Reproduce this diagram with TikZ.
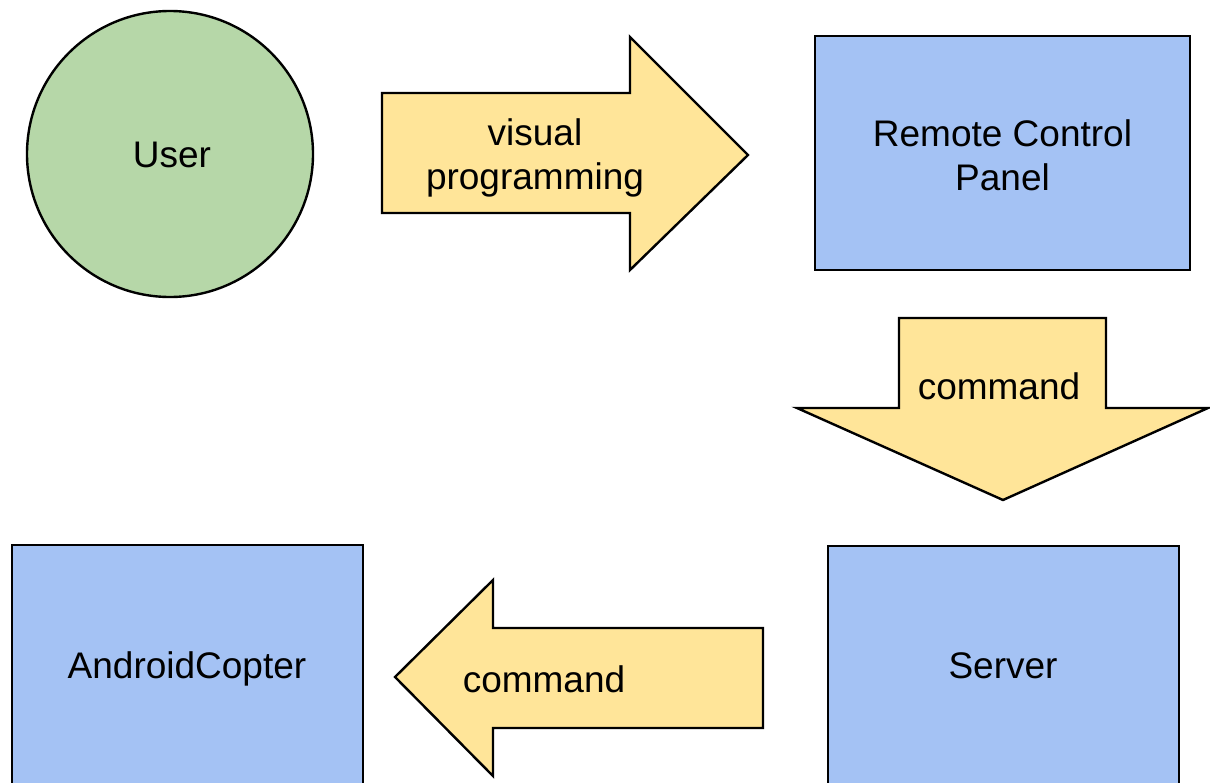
\documentclass[tikz,border=0pt]{standalone}
\usepackage{fontspec}
\setmainfont{Liberation Sans}
\definecolor{usergreen}{HTML}{B6D7A8}
\definecolor{boxblue}{HTML}{A4C2F4}
\definecolor{flowyellow}{HTML}{FFE599}
\tikzset{
  outline/.style={draw=black, line width=2.4pt},
  actor/.style={outline, fill=usergreen, circle, inner sep=0pt},
  blockbox/.style={outline, fill=boxblue, rectangle, inner sep=0pt},
  flow/.style={outline, fill=flowyellow},
  txt/.style={anchor=base, inner sep=0pt, font=\fontsize{37pt}{42pt}\selectfont}
}
\begin{document}
\begin{tikzpicture}[x=1pt, y=-1pt]
  \useasboundingbox (0,0) rectangle (1210,782);
  \fill[white] (0,0) rectangle (1210,782);

  % participants
  \node[actor, minimum size=286pt] (user) at (170,154) {};
  \node[blockbox, minimum width=375pt, minimum height=234pt] (rcp) at (1002.5,153) {};
  \node[blockbox, minimum width=351pt, minimum height=260pt] (server) at (1003.5,676) {};
  \node[blockbox, minimum width=351pt, minimum height=260pt] (copter) at (187.5,675) {};

  % block arrows
  \draw[flow] (382,93) -- (630,93) -- (630,37) -- (748,155) -- (630,270)
    -- (630,213) -- (382,213) -- cycle;
  \draw[flow] (899,318) -- (1106,318) -- (1106,408) -- (1208,408) -- (1003,500)
    -- (797,408) -- (899,408) -- cycle;
  \draw[flow] (763,628) -- (493,628) -- (493,580) -- (395,677) -- (493,776)
    -- (493,728) -- (763,728) -- cycle;

  % labels
  \node[txt] (userlbl) at (172,167) {User};
  \node[txt] (vislbl1) at (535,145) {visual};
  \node[txt] (vislbl2) at (535,189) {programming};
  \node[txt] (rcplbl1) at (1002.5,146) {Remote Control};
  \node[txt] (rcplbl2) at (1002.5,190) {Panel};
  \node[txt] (cmd1) at (999,399) {command};
  \node[txt] (serverlbl) at (1003,678) {Server};
  \node[txt] (cmd2) at (544,692) {command};
  \node[txt] (copterlbl) at (187,678) {AndroidCopter};
\end{tikzpicture}
\end{document}
